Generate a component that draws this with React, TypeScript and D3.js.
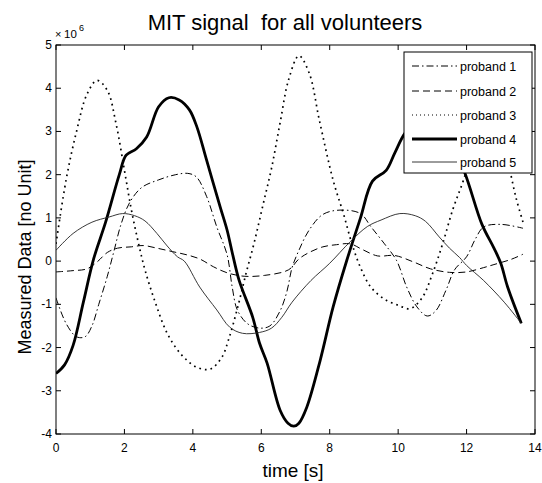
import React from "react";
import * as d3 from "d3";

const xTicks = [0, 2, 4, 6, 8, 10, 12, 14];
const yTicks = [-4, -3, -2, -1, 0, 1, 2, 3, 4, 5];
const seriesNames = ["proband 1", "proband 2", "proband 3", "proband 4", "proband 5"];

// values in units of 10^6, [time s, value]
const proband1: [number, number][] = [
  [0, -0.85], [0.3, -1.45], [0.6, -1.75], [0.85, -1.75], [1.05, -1.5], [1.25, -1.0], [1.5, -0.35],
  [1.7, 0.25], [1.9, 0.85], [2.15, 1.35], [2.5, 1.7], [3.0, 1.88], [3.5, 2.0], [3.85, 2.03],
  [4.1, 1.95], [4.4, 1.5], [4.7, 0.79], [5.0, 0.15], [5.15, -0.6], [5.3, -1.13], [5.6, -1.45],
  [5.95, -1.55], [6.25, -1.5], [6.55, -1.15], [6.75, -0.7], [6.9, -0.15], [7.1, 0.25], [7.4, 0.72],
  [7.8, 1.08], [8.3, 1.18], [8.9, 1.1], [9.2, 0.8], [9.6, 0.4], [9.95, 0.02], [10.25, -0.6],
  [10.55, -1.06], [10.85, -1.27], [11.1, -1.15], [11.4, -0.67], [11.65, -0.2], [12.0, 0.1],
  [12.25, 0.5], [12.5, 0.79], [13.0, 0.85], [13.65, 0.76],
];
const proband2: [number, number][] = [
  [0, -0.25], [0.5, -0.22], [0.9, -0.18], [1.2, -0.02], [1.5, 0.2], [1.8, 0.3], [2.2, 0.33],
  [2.55, 0.36], [2.95, 0.3], [3.4, 0.22], [3.8, 0.15], [4.2, 0.05], [4.6, -0.13], [5.0, -0.27],
  [5.5, -0.35], [6.1, -0.33], [6.8, -0.2], [7.1, 0.05], [7.4, 0.2], [7.8, 0.33], [8.2, 0.38],
  [8.6, 0.4], [8.95, 0.27], [9.4, 0.12], [9.9, 0.13], [10.45, -0.02], [10.95, -0.18], [11.5, -0.26],
  [12.0, -0.25], [12.5, -0.15], [12.8, -0.08], [13.3, 0.04], [13.65, 0.16],
];
const proband3: [number, number][] = [
  [0, 0.4], [0.3, 1.9], [0.6, 3.0], [0.9, 3.85], [1.2, 4.18], [1.5, 3.95], [1.75, 3.2], [2.0, 2.1],
  [2.2, 1.2], [2.4, 0.45], [2.6, -0.2], [2.9, -0.95], [3.25, -1.67], [3.65, -2.15], [4.1, -2.45],
  [4.5, -2.5], [4.85, -2.22], [5.05, -1.8], [5.3, -1.1], [5.55, -0.3], [5.8, 0.45], [6.05, 1.3],
  [6.3, 2.15], [6.55, 3.2], [6.8, 4.2], [7.1, 4.75], [7.4, 4.35], [7.7, 3.25], [8.1, 1.87],
  [8.4, 1.1], [8.65, 0.4], [8.9, -0.15], [9.2, -0.6], [9.6, -0.88], [10.0, -1.02], [10.35, -1.1],
  [10.7, -0.85], [11.0, -0.3], [11.3, 0.4], [11.6, 1.2], [11.9, 1.85], [12.2, 2.6], [12.6, 3.1],
  [12.9, 3.0], [13.2, 2.3], [13.45, 1.45], [13.65, 0.9],
];
const proband4: [number, number][] = [
  [0, -2.6], [0.25, -2.4], [0.5, -1.95], [0.8, -0.95], [1.1, 0.05], [1.45, 0.9],
  [1.85, 2.0], [2.05, 2.45], [2.35, 2.6], [2.65, 2.87], [3.0, 3.57], [3.3, 3.78], [3.6, 3.73],
  [3.9, 3.5], [4.12, 3.1], [4.4, 2.34], [4.8, 1.25], [5.0, 0.72], [5.15, 0.2], [5.35, -0.44],
  [5.75, -1.3], [5.95, -1.9], [6.17, -2.36], [6.55, -3.45], [6.78, -3.75], [6.95, -3.82],
  [7.1, -3.75], [7.33, -3.38], [7.72, -2.3], [8.1, -1.06], [8.5, 0.02], [8.9, 1.0], [9.25, 1.85],
  [9.65, 2.1], [9.9, 2.5], [10.2, 2.96], [10.6, 3.28], [11.0, 3.3], [11.5, 2.85], [11.95, 2.04],
  [12.45, 0.85], [12.8, 0.3], [13.0, -0.05], [13.2, -0.6], [13.6, -1.44],
];
const proband5: [number, number][] = [
  [0, 0.25], [0.5, 0.64], [1.05, 0.9], [1.55, 1.02], [1.95, 1.1], [2.3, 1.05], [2.6, 0.93],
  [2.95, 0.64], [3.25, 0.35], [3.55, 0.1], [3.75, 0.0], [4.2, -0.6], [4.7, -1.13], [5.08, -1.53],
  [5.45, -1.67], [5.95, -1.65], [6.3, -1.55], [6.6, -1.3], [6.9, -0.95], [7.45, -0.45], [8.0, -0.05],
  [8.6, 0.45], [9.1, 0.8], [9.5, 0.95], [10.05, 1.1], [10.5, 1.05], [10.8, 0.92], [11.2, 0.56],
  [11.5, 0.3], [11.8, 0.08], [12.0, -0.1], [12.5, -0.45], [13.1, -0.95], [13.6, -1.44],
];

const seriesData = [proband1, proband2, proband3, proband4, proband5];
const styles = [
  { w: 1, dash: "7,3,1.5,3", color: "#000" },
  { w: 1, dash: "7,4", color: "#000" },
  { w: 1.7, dash: "1.7,4", color: "#000" },
  { w: 2.8, dash: "", color: "#000" },
  { w: 0.9, dash: "", color: "#222" },
];

const W = 542, H = 483;
const L = 56, R = 535, T = 45, B = 434;
const FONT = "'Liberation Sans', Arial, Helvetica, sans-serif";

export default function App() {
  const x = d3.scaleLinear().domain([0, 14]).range([L, R]);
  const y = d3.scaleLinear().domain([-4, 5]).range([B, T]);
  const line = d3.line<[number, number]>()
    .x((d) => x(d[0]))
    .y((d) => y(d[1]))
    .curve(d3.curveCatmullRom.alpha(0.5));
  const tick = 5;
  const legX = 404, legY = 52, legW = 128, legH = 121;
  const legRows = [66, 91, 115, 139, 162];
  return (
    <svg width={W} height={H} style={{ position: "absolute", left: 0, top: 0, background: "#fff" }} fontFamily={FONT}>
      <rect x={0} y={0} width={W} height={H} fill="#fff" />
      <defs>
        <clipPath id="plotclip">
          <rect x={L} y={T} width={R - L} height={B - T} />
        </clipPath>
      </defs>
      <text x={285} y={30} textAnchor="middle" fontSize={22} fill="#000"
        style={{ whiteSpace: "pre" }}>{"MIT signal  for all volunteers"}</text>
      <text x={55} y={38} fontSize={11} fill="#000">×</text>
      <text x={64} y={38} fontSize={11.5} fill="#000">10</text>
      <text x={79} y={31} fontSize={9} fill="#000">6</text>
      <g clipPath="url(#plotclip)">
        {seriesData.map((s, i) => (
          <path key={i} d={line(s) || ""} fill="none" stroke={styles[i].color} strokeWidth={styles[i].w}
            strokeDasharray={styles[i].dash || undefined} strokeLinejoin="round" />
        ))}
      </g>
      <rect x={L} y={T} width={R - L} height={B - T} fill="none" stroke="#000" strokeWidth={1} />
      {xTicks.map((t) => (
        <g key={"x" + t}>
          <line x1={x(t)} x2={x(t)} y1={B} y2={B - tick} stroke="#000" />
          <line x1={x(t)} x2={x(t)} y1={T} y2={T + tick} stroke="#000" />
          <text x={x(t)} y={452} textAnchor="middle" fontSize={12} fill="#000">{t}</text>
        </g>
      ))}
      {yTicks.map((t) => (
        <g key={"y" + t}>
          <line x1={L} x2={L + tick} y1={y(t)} y2={y(t)} stroke="#000" />
          <line x1={R} x2={R - tick} y1={y(t)} y2={y(t)} stroke="#000" />
          <text x={52} y={y(t) + 4} textAnchor="end" fontSize={12} fill="#000">{t}</text>
        </g>
      ))}
      <text x={293} y={477} textAnchor="middle" fontSize={19} fill="#000">time [s]</text>
      <text transform={`translate(31,257) rotate(-90)`} textAnchor="middle" fontSize={18} fill="#000">Measured Data [no Unit]</text>
      <rect x={legX} y={legY} width={legW} height={legH} fill="#fff" stroke="#000" strokeWidth={1} />
      {seriesNames.map((n, i) => (
        <g key={n}>
          <line x1={412} x2={457} y1={legRows[i]} y2={legRows[i]} stroke={styles[i].color}
            strokeWidth={i === 2 ? 1 : styles[i].w} strokeDasharray={i === 2 ? "1,3" : (styles[i].dash || undefined)} />
          <text x={460} y={legRows[i] + 4.5} fontSize={12.5} fill="#000">{n}</text>
        </g>
      ))}
    </svg>
  );
}
